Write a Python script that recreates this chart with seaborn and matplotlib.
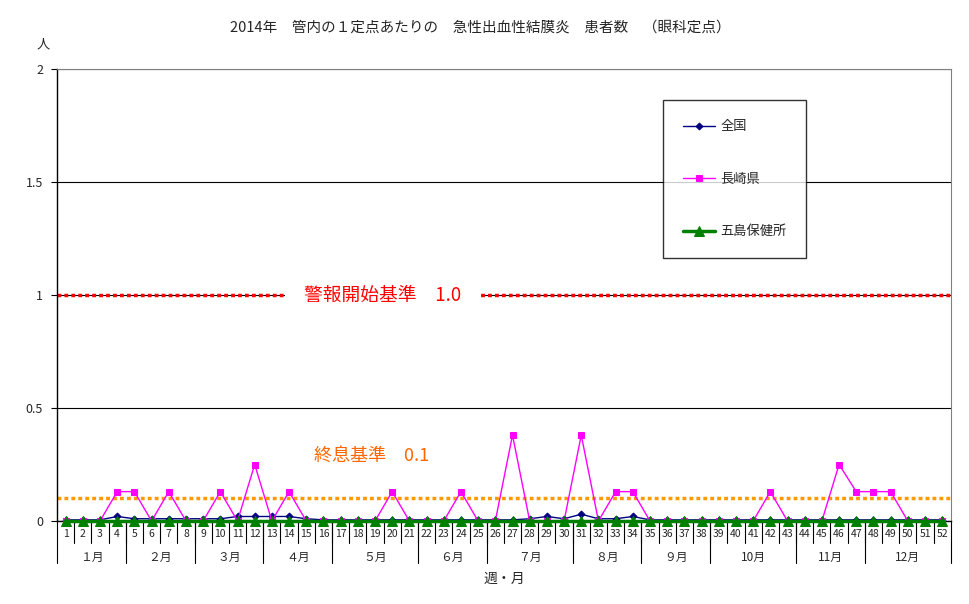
import pandas as pd
import seaborn as sns
import matplotlib.pyplot as plt
from matplotlib import transforms

weeks = list(range(1, 53))
zenkoku = [0.005, 0.005, 0.005, 0.02, 0.01, 0.01, 0.01, 0.01, 0.01, 0.01,
           0.02, 0.02, 0.02, 0.02, 0.01, 0.005, 0.005, 0.005, 0.005, 0.005,
           0.005, 0.005, 0.005, 0.005, 0.005, 0.005, 0.005, 0.01, 0.02, 0.01,
           0.03, 0.01, 0.01, 0.02, 0.005, 0.005, 0.005, 0.005, 0.005, 0.005,
           0.005, 0.005, 0.005, 0.005, 0.005, 0.005, 0.005, 0.005, 0.005, 0.005,
           0.005, 0.005]
nagasaki = [0, 0, 0, 0.13, 0.13, 0, 0.13, 0, 0, 0.13,
            0, 0.25, 0, 0.13, 0, 0, 0, 0, 0, 0.13,
            0, 0, 0, 0.13, 0, 0, 0.38, 0, 0, 0,
            0.38, 0, 0.13, 0.13, 0, 0, 0, 0, 0, 0,
            0, 0.13, 0, 0, 0, 0.25, 0.13, 0.13, 0.13, 0,
            0, 0]
goto = [0] * 52
months = ['１月', '２月', '３月', '４月', '５月', '６月', '７月', '８月',
          '９月', '10月', '11月', '12月']
month_weeks = [4, 4, 4, 4, 5, 4, 5, 4, 4, 5, 4, 5]
warn_level = 1.0
end_level = 0.1

sns.set_style('white')
plt.rcParams['font.family'] = ['Noto Sans CJK JP', 'DejaVu Sans']

fig = plt.figure(figsize=(9.7, 6.04), dpi=100)
ax = fig.add_axes([0.0588, 0.1374, 0.9214, 0.7484])

sns.lineplot(x=weeks, y=zenkoku, ax=ax, color='#000080', marker='D',
             markersize=3.5, markeredgecolor='#000080', linewidth=1,
             label='全国', zorder=3, clip_on=False)
sns.lineplot(x=weeks, y=nagasaki, ax=ax, color='#FF00FF', marker='s',
             markersize=4.5, markeredgecolor='#FF00FF', linewidth=1,
             label='長崎県', zorder=4, clip_on=False)
sns.lineplot(x=weeks, y=goto, ax=ax, color='#008000', marker='^',
             markersize=7.5, markeredgecolor='#008000', linewidth=2.5,
             label='五島保健所', zorder=5, clip_on=False)

ax.axhline(warn_level, color='#FF0000', linewidth=2.5,
           linestyle=(0, (1.1, 0.9)), zorder=2)
ax.axhline(end_level, color='#FF9900', linewidth=2.5,
           linestyle=(0, (1.1, 0.9)), zorder=2)
ax.text(0.3645, warn_level, '警報開始基準　1.0', transform=ax.get_yaxis_transform(),
        ha='center', va='center', color='#FF0000', fontsize=13.5,
        bbox=dict(facecolor='white', edgecolor='none', pad=14), zorder=6)
ax.text(0.352, end_level + 0.19, '終息基準　0.1', transform=ax.get_yaxis_transform(),
        ha='center', va='center', color='#FF6600', fontsize=13, zorder=6)

ax.set_xlim(0.5, 52.5)
ax.set_ylim(0, 2)
ax.set_yticks([0, 0.5, 1, 1.5, 2])
ax.set_yticklabels(['0', '0.5', '1', '1.5', '2'], fontsize=9)
ax.tick_params(axis='y', length=4, width=0.8, color='black', pad=6, left=True)
ax.set_xticks(weeks)
ax.set_xticklabels([str(w) for w in weeks], fontsize=7.5)
ax.tick_params(axis='x', length=0, pad=6)
ax.yaxis.grid(True, color='black', linewidth=0.8)
ax.set_axisbelow(True)

for side in ['top', 'right']:
    ax.spines[side].set_color('#808080')
for side in ['left', 'bottom']:
    ax.spines[side].set_color('black')
    ax.spines[side].set_linewidth(1)

trans = transforms.blended_transform_factory(ax.transData, ax.transAxes)
for w in weeks[:-1]:
    ax.plot([w + 0.5, w + 0.5], [0, -0.048], transform=trans, color='black',
            linewidth=0.8, clip_on=False)
start = 0.5
for name, n in zip(months, month_weeks):
    ax.plot([start, start], [0, -0.093], transform=trans, color='black',
            linewidth=0.8, clip_on=False)
    ax.text(start + n / 2, -0.08, name, transform=trans, ha='center',
            va='center', fontsize=8.5)
    start += n
ax.plot([start, start], [0, -0.093], transform=trans, color='black',
        linewidth=0.8, clip_on=False)

ax.text(0.5, -0.127, '週・月', transform=ax.transAxes, ha='center',
        va='center', fontsize=10)
ax.set_xlabel('')
ax.set_ylabel('')

fig.text(0.495, 0.954, '2014年　管内の１定点あたりの　急性出血性結膜炎　患者数　（眼科定点）',
         ha='center', va='center', fontsize=10.5)
fig.text(0.045, 0.925, '人', ha='center', va='center', fontsize=9.5)

leg = ax.legend(loc='upper left', bbox_to_anchor=(0.671, 0.945), fontsize=9.5,
                labelspacing=3.0, borderpad=1.5, handlelength=2.4,
                handletextpad=0.4, frameon=True, fancybox=False)
leg.get_frame().set_edgecolor('black')
leg.get_frame().set_linewidth(1)

fig.savefig('out.png', dpi=100)
